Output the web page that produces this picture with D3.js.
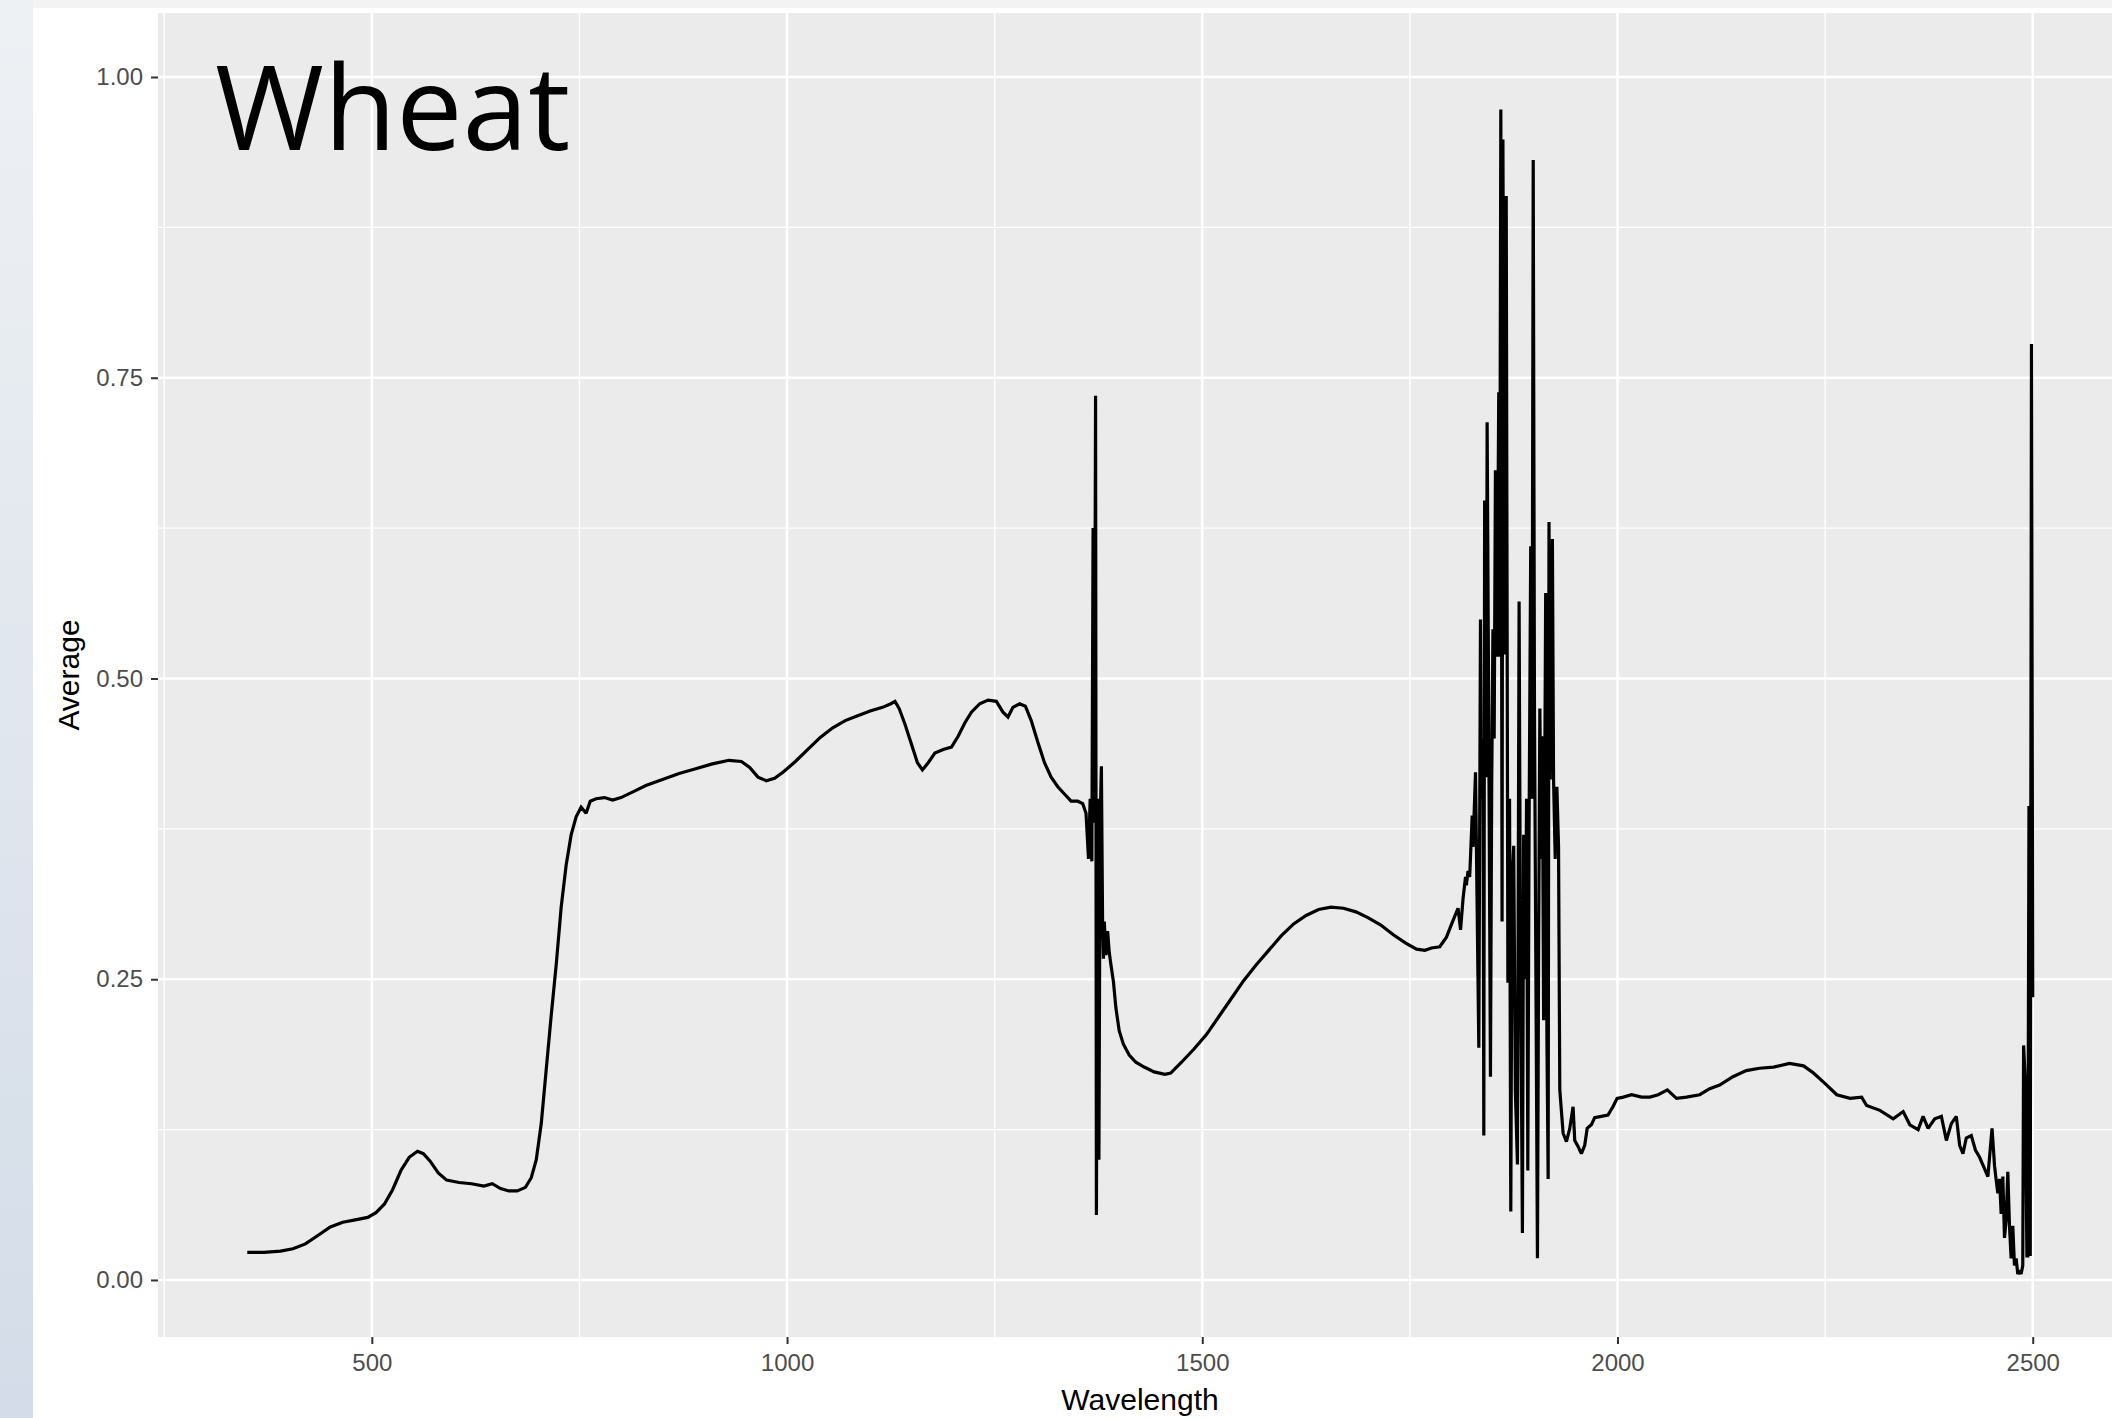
<!DOCTYPE html>
<html lang="en">
<head>
    <meta charset="UTF-8">
    <title>Wheat spectrum</title>
    <script src="https://cdn.jsdelivr.net/npm/d3@7"></script>
    <style>
        body { margin: 0; background: #fff; }
        svg { display: block; }
    </style>
</head>
<body>

<svg></svg>

<script>

    // wavelength (nm) / average reflectance in three stretches

    // 350 - 1802: smooth part with the water band at ~1370
    const wavelengthA = [
        350, 370, 390, 405, 420, 435, 450, 465, 480, 495,
        505, 515, 525, 535, 545, 555, 562, 570, 580, 590,
        605, 620, 635, 645, 655, 665, 675, 685, 692, 698,
        704, 710, 716, 722, 728, 734, 740, 746, 752, 758,
        763, 770, 780, 790, 800, 815, 830, 850, 870, 890,
        910, 930, 945, 955, 965, 975, 985, 995, 1010, 1025,
        1040, 1055, 1070, 1085, 1100, 1115, 1125, 1130, 1135, 1142,
        1150, 1157, 1163, 1170, 1178, 1188, 1198, 1206, 1214, 1222,
        1232, 1242, 1252, 1260, 1266, 1272, 1280, 1287, 1294, 1302,
        1310, 1318, 1326, 1334, 1342, 1350, 1356, 1360, 1363, 1365,
        1367, 1368.5, 1370, 1371.5, 1372.5, 1374, 1375.5, 1377, 1378.5, 1380,
        1381, 1382, 1384, 1386, 1388, 1390, 1393, 1396, 1400, 1405,
        1412, 1420, 1430, 1442, 1455, 1462, 1475, 1490, 1505, 1520,
        1535, 1550, 1565, 1580, 1595, 1610, 1625, 1640, 1655, 1670,
        1685, 1700, 1715, 1730, 1745, 1758, 1768, 1776, 1786, 1794,
        1802
    ];
    const averageA = [
        0.023, 0.023, 0.024, 0.026, 0.030, 0.037, 0.044, 0.048, 0.050, 0.052,
        0.056, 0.063, 0.075, 0.091, 0.102, 0.107, 0.105, 0.099, 0.089, 0.083,
        0.081, 0.080, 0.078, 0.080, 0.076, 0.074, 0.074, 0.077, 0.085, 0.100,
        0.130, 0.175, 0.220, 0.262, 0.310, 0.345, 0.370, 0.385, 0.393, 0.388,
        0.398, 0.400, 0.401, 0.399, 0.401, 0.406, 0.411, 0.416, 0.421, 0.425,
        0.429, 0.432, 0.431, 0.426, 0.418, 0.415, 0.417, 0.422, 0.431, 0.441,
        0.451, 0.459, 0.465, 0.469, 0.473, 0.476, 0.479, 0.481, 0.475, 0.462,
        0.445, 0.430, 0.424, 0.430, 0.438, 0.441, 0.443, 0.452, 0.463, 0.472,
        0.479, 0.482, 0.481, 0.472, 0.468, 0.476, 0.479, 0.477, 0.465, 0.447,
        0.430, 0.418, 0.410, 0.404, 0.398, 0.398, 0.396, 0.388, 0.350, 0.400,
        0.348, 0.625, 0.380, 0.735, 0.054, 0.400, 0.100, 0.380, 0.427, 0.293,
        0.267, 0.298, 0.270, 0.290, 0.272, 0.262, 0.248, 0.226, 0.207, 0.196,
        0.187, 0.181, 0.177, 0.173, 0.171, 0.172, 0.181, 0.192, 0.204, 0.219,
        0.234, 0.249, 0.262, 0.274, 0.286, 0.296, 0.303, 0.308, 0.310, 0.309,
        0.306, 0.301, 0.295, 0.287, 0.280, 0.275, 0.274, 0.276, 0.277, 0.285,
        0.299
    ];

    // 1808 - 1929: noisy band
    const wavelengthB = [
        1808, 1811, 1814, 1817, 1818, 1820, 1822, 1825, 1826, 1829,
        1831, 1833, 1835, 1836, 1838, 1839, 1840, 1842, 1843, 1845,
        1847, 1848.5, 1850, 1851.5, 1853, 1855, 1857, 1858, 1859.5, 1861,
        1862, 1864, 1866, 1868, 1870, 1871.5, 1873, 1875, 1877, 1879.5,
        1881.5, 1883, 1885.5, 1887, 1889, 1890.5, 1892, 1893.5, 1895.5, 1897,
        1898.5, 1900, 1902, 1903.6, 1905, 1906.5, 1908, 1909.5, 1911, 1913.5,
        1915, 1916.5, 1917.5, 1919, 1921.6, 1923, 1925, 1927, 1929
    ];
    const averageB = [
        0.309, 0.291, 0.317, 0.335, 0.328, 0.340, 0.335, 0.386, 0.360, 0.422,
        0.308, 0.193, 0.549, 0.400, 0.450, 0.120, 0.648, 0.418, 0.713, 0.458,
        0.169, 0.410, 0.541, 0.450, 0.673, 0.518, 0.738, 0.518, 0.973, 0.298,
        0.948, 0.520, 0.901, 0.247, 0.400, 0.057, 0.330, 0.361, 0.157, 0.096,
        0.564, 0.300, 0.039, 0.370, 0.250, 0.400, 0.091, 0.375, 0.610, 0.400,
        0.931, 0.475, 0.220, 0.018, 0.274, 0.475, 0.350, 0.452, 0.216, 0.571,
        0.200, 0.084, 0.630, 0.416, 0.616, 0.416, 0.350, 0.410, 0.360
    ];

    // 1930 - 2500: tail
    const wavelengthC = [
        1930.5, 1934.5, 1938.5, 1942.5, 1946.5, 1948.5, 1952.5, 1956.5,
        1960.5, 1963.5, 1968.5, 1972.5, 1980.5, 1988.5, 1994.5, 1999.5, 2007, 2017,
        2029, 2039, 2049, 2060, 2071, 2083, 2099, 2111, 2123, 2139,
        2155, 2171, 2188, 2207, 2224, 2236, 2252, 2264, 2280, 2294,
        2300, 2316, 2332, 2344, 2352, 2362, 2368, 2374, 2382, 2390,
        2396, 2402, 2408, 2412, 2416, 2420, 2426, 2431, 2436, 2441,
        2446, 2449, 2451, 2454, 2456, 2458, 2460, 2462, 2464, 2466,
        2468, 2470, 2472, 2474, 2476, 2478, 2480, 2482, 2484, 2486,
        2488, 2489, 2491, 2493, 2494, 2495.5, 2497, 2498.5, 2500
    ];
    const averageC = [
        0.158, 0.122, 0.115, 0.126, 0.144, 0.116, 0.111, 0.105,
        0.112, 0.126, 0.129, 0.135, 0.136, 0.137, 0.144, 0.151, 0.152, 0.154,
        0.152, 0.152, 0.154, 0.158, 0.151, 0.152, 0.154, 0.159, 0.162, 0.169,
        0.174, 0.176, 0.177, 0.180, 0.178, 0.172, 0.162, 0.154, 0.151, 0.152,
        0.145, 0.141, 0.134, 0.140, 0.129, 0.125, 0.136, 0.126, 0.134, 0.136,
        0.116, 0.130, 0.136, 0.112, 0.105, 0.118, 0.120, 0.108, 0.102, 0.094,
        0.086, 0.110, 0.126, 0.095, 0.083, 0.072, 0.084, 0.055, 0.086, 0.035,
        0.050, 0.090, 0.045, 0.018, 0.045, 0.012, 0.018, 0.005, 0.008, 0.005,
        0.012, 0.195, 0.166, 0.020, 0.020, 0.394, 0.020, 0.778, 0.235
    ];

    const wavelength = wavelengthA.concat(wavelengthB, wavelengthC);
    const average = averageA.concat(averageB, averageC);

    const xTicks = [500, 1000, 1500, 2000, 2500];
    const xMinor = [250, 750, 1250, 1750, 2250];
    const yTicks = [0, 0.25, 0.5, 0.75, 1.0];
    const yMinor = [0.125, 0.375, 0.625, 0.875];

    const width = 2112;
    const height = 1418;
    const panel = {left: 158, right: 2122, top: 13, bottom: 1337};

    const xScale = d3.scaleLinear().domain([242.5, 2607.5]).range([panel.left, panel.right]);
    const yScale = d3.scaleLinear().domain([-0.0474, 1.0532]).range([panel.bottom, panel.top]);

    const svg = d3.select('svg')
        .attr('width', width)
        .attr('height', height);

    // slide background: pale top band and bluish strip on the left
    const defs = svg.append('defs');
    const grad = defs.append('linearGradient')
        .attr('id', 'side')
        .attr('x1', 0).attr('y1', 0).attr('x2', 0).attr('y2', 1);
    grad.append('stop').attr('offset', '0%').attr('stop-color', '#eef1f4');
    grad.append('stop').attr('offset', '100%').attr('stop-color', '#d3dce8');

    svg.append('rect').attr('width', width).attr('height', height).attr('fill', '#ffffff');
    svg.append('rect').attr('width', width).attr('height', 8).attr('fill', '#f3f3f3');
    svg.append('rect').attr('width', 33).attr('height', height).attr('fill', 'url(#side)');

    defs.append('clipPath').attr('id', 'clip')
        .append('rect')
        .attr('x', panel.left).attr('y', panel.top)
        .attr('width', panel.right - panel.left).attr('height', panel.bottom - panel.top);

    const plot = svg.append('g').attr('clip-path', 'url(#clip)');

    plot.append('rect')
        .attr('x', panel.left).attr('y', panel.top)
        .attr('width', panel.right - panel.left).attr('height', panel.bottom - panel.top)
        .attr('fill', '#ebebeb');

    // grid
    plot.selectAll('.xminor').data(xMinor).enter().append('line')
        .attr('x1', d => xScale(d)).attr('x2', d => xScale(d))
        .attr('y1', panel.top).attr('y2', panel.bottom)
        .attr('stroke', '#fff').attr('stroke-width', 1.4);
    plot.selectAll('.yminor').data(yMinor).enter().append('line')
        .attr('x1', panel.left).attr('x2', panel.right)
        .attr('y1', d => yScale(d)).attr('y2', d => yScale(d))
        .attr('stroke', '#fff').attr('stroke-width', 1.4);
    plot.selectAll('.xmajor').data(xTicks).enter().append('line')
        .attr('x1', d => xScale(d)).attr('x2', d => xScale(d))
        .attr('y1', panel.top).attr('y2', panel.bottom)
        .attr('stroke', '#fff').attr('stroke-width', 2.6);
    plot.selectAll('.ymajor').data(yTicks).enter().append('line')
        .attr('x1', panel.left).attr('x2', panel.right)
        .attr('y1', d => yScale(d)).attr('y2', d => yScale(d))
        .attr('stroke', '#fff').attr('stroke-width', 2.6);

    // spectrum
    const points = wavelength.map((w, i) => [w, average[i]]);
    const line = d3.line()
        .x(d => xScale(d[0]))
        .y(d => yScale(d[1]));

    plot.append('path')
        .datum(points)
        .attr('d', line)
        .attr('fill', 'none')
        .attr('stroke', '#000')
        .attr('stroke-width', 3.2)
        .attr('stroke-linejoin', 'miter')
        .attr('stroke-miterlimit', 2);

    // axes
    const xAxis = d3.axisBottom(xScale)
        .tickValues(xTicks)
        .tickFormat(d3.format('d'))
        .tickSizeInner(7)
        .tickSizeOuter(0)
        .tickPadding(10);

    const gx = svg.append('g')
        .attr('transform', `translate(0, ${panel.bottom})`)
        .call(xAxis);

    const yAxis = d3.axisLeft(yScale)
        .tickValues(yTicks)
        .tickFormat(d3.format('.2f'))
        .tickSizeInner(7)
        .tickSizeOuter(0)
        .tickPadding(8);

    const gy = svg.append('g')
        .attr('transform', `translate(${panel.left}, 0)`)
        .call(yAxis);

    [gx, gy].forEach(g => {
        g.select('.domain').remove();
        g.selectAll('line').attr('stroke', '#333').attr('stroke-width', 2);
        g.selectAll('text')
            .attr('fill', '#4d4d4d')
            .style('font-family', '"Liberation Sans", Arial, sans-serif')
            .style('font-size', '24px');
    });

    svg.append('text')
        .text('Wavelength')
        .attr('x', (panel.left + panel.right) / 2)
        .attr('y', 1410)
        .attr('text-anchor', 'middle')
        .style('font-family', '"Liberation Sans", Arial, sans-serif')
        .style('font-size', '30px')
        .attr('fill', '#000');

    svg.append('text')
        .text('Average')
        .attr('transform', `translate(79, ${(panel.top + panel.bottom) / 2}) rotate(-90)`)
        .attr('text-anchor', 'middle')
        .style('font-family', '"Liberation Sans", Arial, sans-serif')
        .style('font-size', '30px')
        .attr('fill', '#000');

    // slide title placed over the plot
    svg.append('text')
        .text('Wheat')
        .attr('x', 215)
        .attr('y', 150)
        .style('font-family', '"Open Sans", Lato, sans-serif')
        .style('font-size', '118px')
        .attr('fill', '#000');

</script>

</body>
</html>
